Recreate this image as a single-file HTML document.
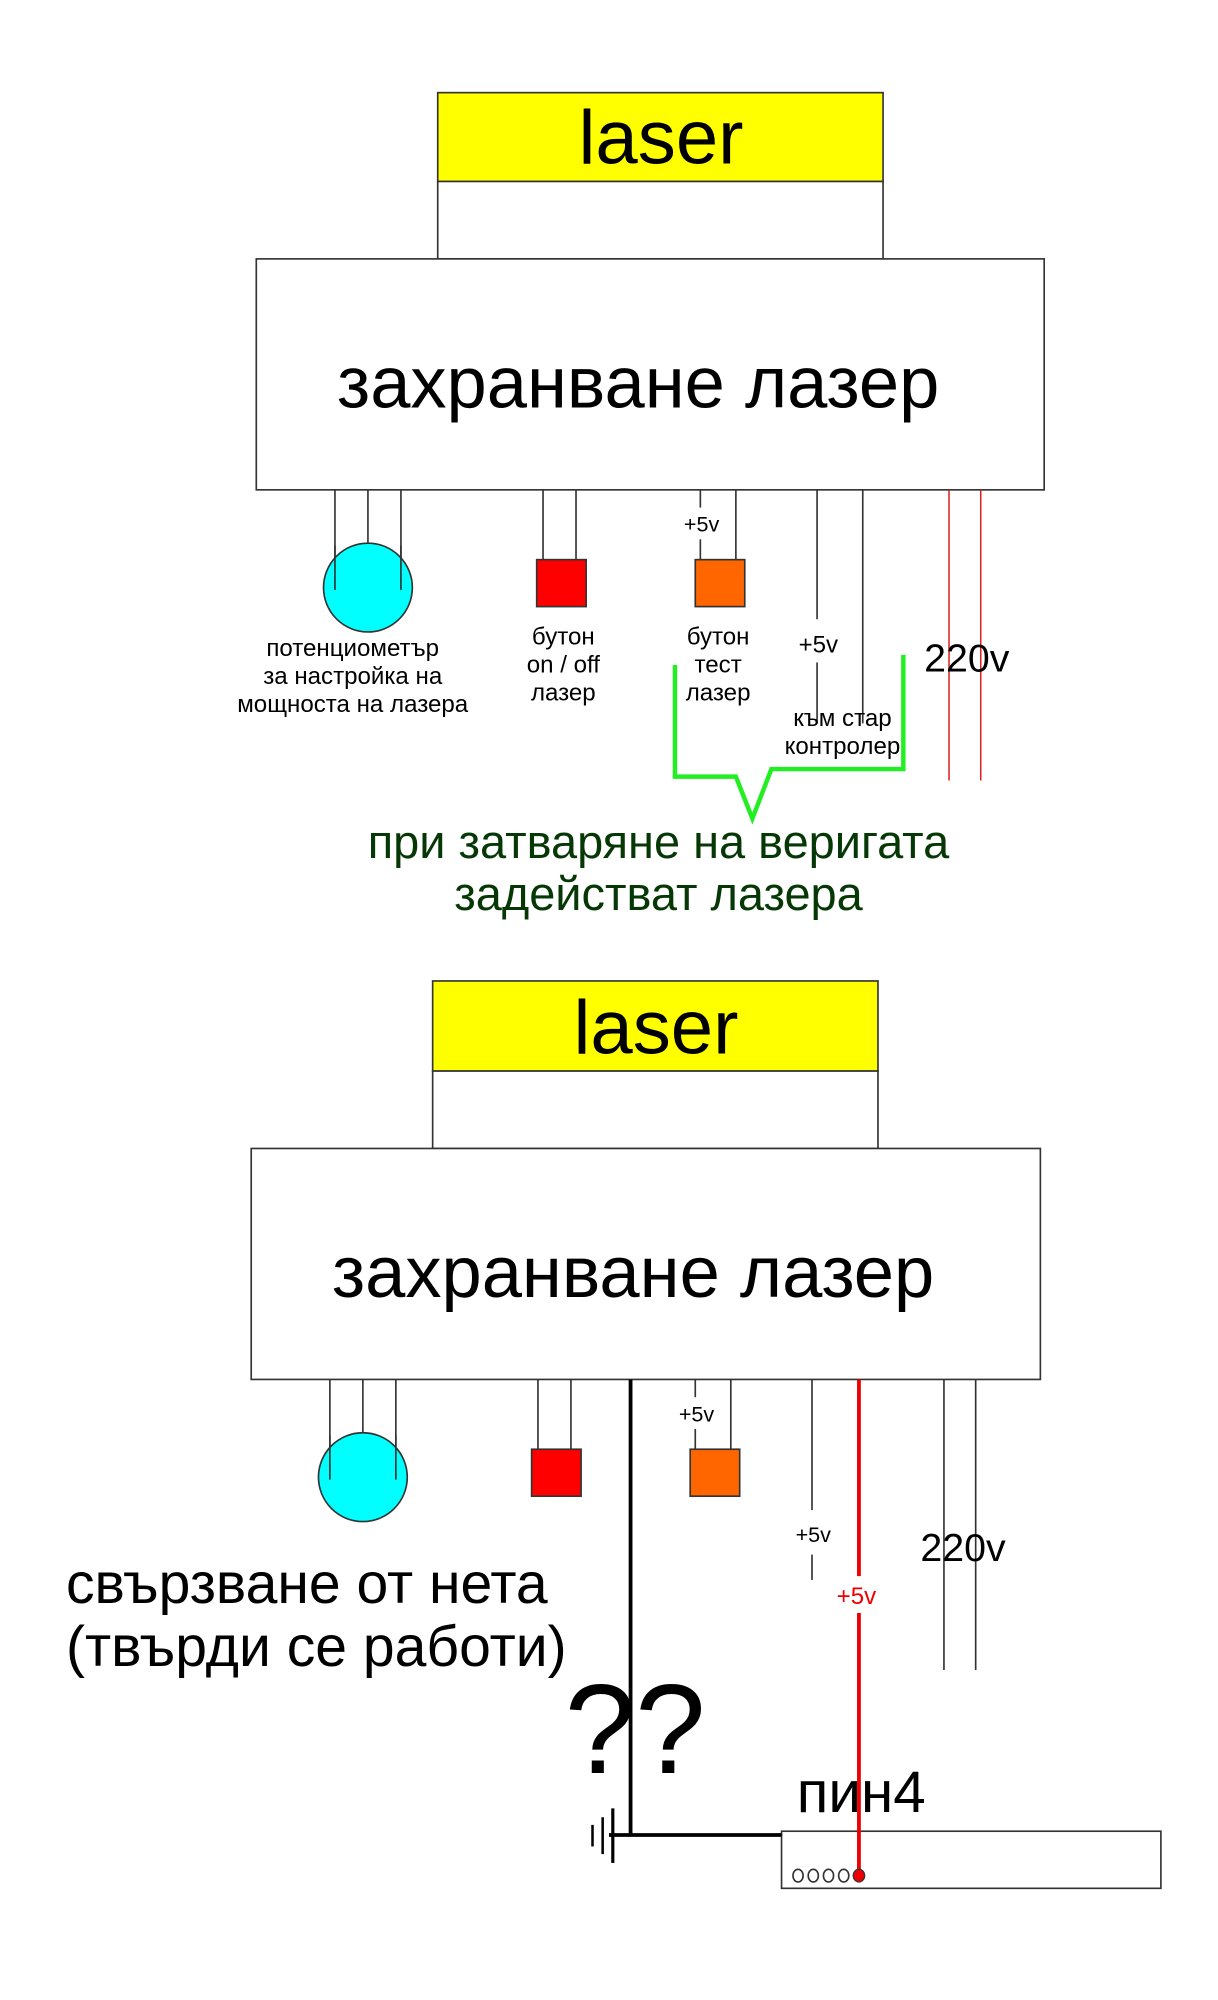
<!DOCTYPE html>
<html><head><meta charset="utf-8"><style>
html,body{margin:0;padding:0;background:#fff;}
svg{display:block;}
text{font-family:"Liberation Sans",sans-serif;}
</style></head><body>
<svg width="1218" height="2000" viewBox="0 0 960 1576" preserveAspectRatio="none" xmlns="http://www.w3.org/2000/svg">
<rect width="960" height="1576" fill="#fff"/>
<g stroke="#333" stroke-width="1.3" fill="none">
<rect x="345" y="73" width="351" height="70" fill="#ffff00"/>
<rect x="345" y="143" width="351" height="61" fill="#fff"/>
<rect x="202" y="204" width="621" height="182" fill="#fff"/>
<line x1="264" y1="386" x2="264" y2="465"/><line x1="290" y1="386" x2="290" y2="430"/><line x1="316" y1="386" x2="316" y2="465"/>
<ellipse cx="290" cy="463" rx="35" ry="35" fill="#00ffff"/>
<line x1="264" y1="430" x2="264" y2="465"/><line x1="316" y1="430" x2="316" y2="465"/>
<line x1="428" y1="386" x2="428" y2="441"/><line x1="454" y1="386" x2="454" y2="441"/>
<rect x="423" y="441" width="39" height="37" fill="#ff0000"/>
<line x1="552" y1="386" x2="552" y2="400"/><line x1="552" y1="425" x2="552" y2="441"/><line x1="580" y1="386" x2="580" y2="441"/>
<rect x="548" y="441" width="39" height="37" fill="#ff6600"/>
<line x1="644" y1="386" x2="644" y2="488"/><line x1="644" y1="522" x2="644" y2="570"/>
<line x1="680" y1="386" x2="680" y2="570"/>
</g>
<g stroke="#e02020" stroke-width="1.2"><line x1="748" y1="386" x2="748" y2="615"/><line x1="773" y1="386" x2="773" y2="615"/></g>
<polyline points="532,524 532,612 580,612 593,645 608,606 712,606 712,516" fill="none" stroke="#22ee22" stroke-width="3.5"/>
<g text-anchor="middle" fill="#000">
<text x="521" y="129" font-size="60">laser</text>
<text x="503" y="321" font-size="57">захранване лазер</text>
<text x="553" y="419" font-size="17">+5v</text>
<text x="278" y="517" font-size="19">потенциометър</text>
<text x="278" y="539" font-size="19">за настройка на</text>
<text x="278" y="561" font-size="19">мощноста на лазера</text>
<text x="444" y="508" font-size="19">бутон</text>
<text x="444" y="530" font-size="19">on / off</text>
<text x="444" y="552" font-size="19">лазер</text>
<text x="566" y="508" font-size="19">бутон</text>
<text x="566" y="530" font-size="19">тест</text>
<text x="566" y="552" font-size="19">лазер</text>
<text x="645" y="514" font-size="19">+5v</text>
<text x="664" y="572" font-size="19">към стар</text>
<text x="664" y="594" font-size="19">контролер</text>
<text x="762" y="529" font-size="31">220v</text>
<text x="519" y="676" font-size="37" fill="#063806">при затваряне на веригата</text>
<text x="519" y="717" font-size="37" fill="#063806">задействат лазера</text>
</g>
<g stroke="#333" stroke-width="1.3" fill="none">
<rect x="341" y="773" width="351" height="71" fill="#ffff00"/>
<rect x="341" y="844" width="351" height="61" fill="#fff"/>
<rect x="198" y="905" width="622" height="182" fill="#fff"/>
<line x1="260" y1="1087" x2="260" y2="1166"/><line x1="286" y1="1087" x2="286" y2="1131"/><line x1="312" y1="1087" x2="312" y2="1166"/>
<ellipse cx="286" cy="1164" rx="35" ry="35" fill="#00ffff"/>
<line x1="260" y1="1131" x2="260" y2="1166"/><line x1="312" y1="1131" x2="312" y2="1166"/>
<line x1="424" y1="1087" x2="424" y2="1142"/><line x1="450" y1="1087" x2="450" y2="1142"/>
<rect x="419" y="1142" width="39" height="37" fill="#ff0000"/>
<line x1="548" y1="1087" x2="548" y2="1101"/><line x1="548" y1="1126" x2="548" y2="1142"/><line x1="576" y1="1087" x2="576" y2="1142"/>
<rect x="544" y="1142" width="39" height="37" fill="#ff6600"/>
<line x1="640" y1="1087" x2="640" y2="1190"/><line x1="640" y1="1225" x2="640" y2="1245"/>
<line x1="744" y1="1087" x2="744" y2="1316"/><line x1="769" y1="1087" x2="769" y2="1316"/>
<rect x="616" y="1443" width="299" height="45" fill="#fff"/>
<ellipse cx="629" cy="1478" rx="4" ry="5"/><ellipse cx="641" cy="1478" rx="4" ry="5"/><ellipse cx="653" cy="1478" rx="4" ry="5"/><ellipse cx="665" cy="1478" rx="4" ry="5"/>
</g>
<g stroke="#000" stroke-width="3" fill="none">
<line x1="497" y1="1087" x2="497" y2="1446"/>
<line x1="480" y1="1446" x2="616" y2="1446"/>
<line x1="483" y1="1425" x2="483" y2="1468" stroke-width="2.5"/>
<line x1="475" y1="1432" x2="475" y2="1461" stroke-width="2"/>
<line x1="467" y1="1438" x2="467" y2="1455" stroke-width="2"/>
</g>
<g stroke="#ee0000" stroke-width="3"><line x1="677" y1="1087" x2="677" y2="1242"/><line x1="677" y1="1271" x2="677" y2="1478"/></g>
<ellipse cx="677" cy="1478" rx="4.5" ry="5" fill="#ee0000" stroke="#333"/>
<g text-anchor="middle" fill="#000">
<text x="517" y="830" font-size="60">laser</text>
<text x="499" y="1022" font-size="57">захранване лазер</text>
<text x="549" y="1120" font-size="17">+5v</text>
<text x="641" y="1215" font-size="17">+5v</text>
<text x="675" y="1264" font-size="19" fill="#ee0000">+5v</text>
<text x="759" y="1230" font-size="31">220v</text>
</g>
<text x="52" y="1263" font-size="45">свързване от нета</text>
<text x="52" y="1313" font-size="45">(твърди се работи)</text>
<text x="445" y="1397" font-size="100">??</text>
<text x="628" y="1428" font-size="46">пин4</text>
</svg>
</body></html>
